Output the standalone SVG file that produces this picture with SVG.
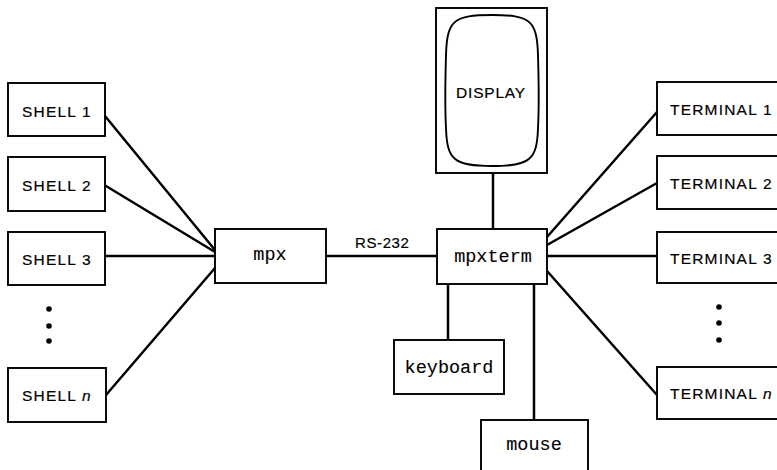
<svg xmlns="http://www.w3.org/2000/svg" width="777" height="470" viewBox="0 0 777 470">
<style>
.box{fill:#fff;stroke:#000;stroke-width:1.9}
.ln{stroke:#000;stroke-width:2.5;fill:none;stroke-linecap:round}
.sans{font-family:"Liberation Sans",Arial,sans-serif;font-size:15.5px;letter-spacing:1.2px;fill:#000;stroke:#000;stroke-width:0.2}
.mono{font-family:"Liberation Mono","Courier New",monospace;font-size:18.5px;fill:#000;stroke:#000;stroke-width:0.1;text-anchor:middle}
.dot{fill:#000}
</style>
<rect width="777" height="470" fill="#fff"/>
<g id="connectors">
<line class="ln" x1="105" y1="116" x2="215" y2="250"/>
<line class="ln" x1="106" y1="186" x2="215" y2="252"/>
<line class="ln" x1="105" y1="256" x2="215" y2="256"/>
<line class="ln" x1="106" y1="395" x2="215" y2="268"/>
<line class="ln" x1="326" y1="256" x2="437" y2="256"/>
<line class="ln" x1="493" y1="173" x2="493" y2="229"/>
<line class="ln" x1="448" y1="284" x2="448" y2="340"/>
<line class="ln" x1="534" y1="284" x2="534" y2="420"/>
<line class="ln" x1="547" y1="237" x2="657" y2="112"/>
<line class="ln" x1="547" y1="245" x2="657" y2="183"/>
<line class="ln" x1="547" y1="256" x2="657" y2="256"/>
<line class="ln" x1="547" y1="271" x2="657" y2="395"/>
</g>
<g id="shell1"><rect class="box" x="8" y="83" width="97" height="53"/><text class="sans" x="22" y="117">SHELL 1</text></g>
<g id="shell2"><rect class="box" x="8" y="157" width="97" height="54"/><text class="sans" x="22" y="191">SHELL 2</text></g>
<g id="shell3"><rect class="box" x="8" y="232" width="97" height="53"/><text class="sans" x="22" y="265">SHELL 3</text></g>
<g id="shelldots"><circle class="dot" cx="49" cy="309" r="2.8"/><circle class="dot" cx="49" cy="326" r="2.8"/><circle class="dot" cx="49" cy="341" r="2.8"/></g>
<g id="shelln"><rect class="box" x="8" y="368" width="98" height="54"/><text class="sans" x="22" y="401">SHELL <tspan font-style="italic">n</tspan></text></g>
<g id="mpx"><rect class="box" x="215" y="229" width="111" height="54"/><text class="mono" x="270" y="260">mpx</text></g>
<text class="sans" x="355" y="248" style="font-size:15px;letter-spacing:0.6px">RS-232</text>
<g id="display">
<rect class="box" x="436" y="8" width="111" height="165"/>
<path class="box" d="M492,15 C530,15 537,20 538,55 C539,90 539,110 538,128 C537,160 530,166 492,166 C454,166 447,160 446,128 C445,110 445,90 446,55 C447,20 454,15 492,15 Z"/>
<text class="sans" x="491" y="98" text-anchor="middle" style="letter-spacing:0.8px">DISPLAY</text>
</g>
<g id="mpxterm"><rect class="box" x="437" y="229" width="110" height="55"/><text class="mono" x="493" y="262">mpxterm</text></g>
<g id="keyboard"><rect class="box" x="394" y="340" width="110" height="54"/><text class="mono" x="449" y="373">keyboard</text></g>
<g id="mouse"><rect class="box" x="481" y="420" width="107" height="54"/><text class="mono" x="534" y="450">mouse</text></g>
<g id="terminal1"><rect class="box" x="657" y="82" width="130" height="53"/><text class="sans" x="670" y="115">TERMINAL 1</text></g>
<g id="terminal2"><rect class="box" x="657" y="156" width="130" height="53"/><text class="sans" x="670" y="189">TERMINAL 2</text></g>
<g id="terminal3"><rect class="box" x="657" y="232" width="130" height="51"/><text class="sans" x="670" y="264">TERMINAL 3</text></g>
<g id="termdots"><circle class="dot" cx="719" cy="307" r="2.8"/><circle class="dot" cx="719" cy="323" r="2.8"/><circle class="dot" cx="719" cy="340" r="2.8"/></g>
<g id="terminaln"><rect class="box" x="657" y="367" width="130" height="52"/><text class="sans" x="670" y="399">TERMINAL <tspan font-style="italic">n</tspan></text></g>
</svg>
